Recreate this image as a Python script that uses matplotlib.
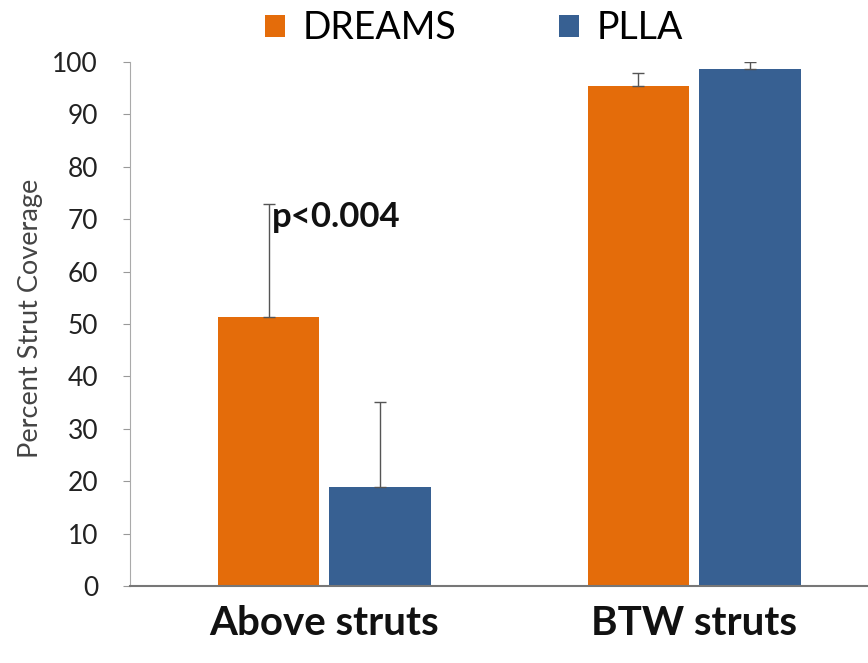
import matplotlib
matplotlib.use("Agg")
import matplotlib.pyplot as plt
import numpy as np

categories = ["Above struts", "BTW struts"]
series_names = ["DREAMS", "PLLA"]
dreams = [51.3, 95.4]
dreams_err = [21.6, 2.5]
plla = [18.9, 98.7]
plla_err = [16.2, 1.3]
yticks = [0, 10, 20, 30, 40, 50, 60, 70, 80, 90, 100]

colors = ["#E46C0A", "#376092"]

plt.rcParams['font.family'] = ['Lato', 'DejaVu Sans']
fig = plt.figure(figsize=(8.68, 6.63), dpi=100)
ax = fig.add_axes([130/868, 77/663, 1 - 130/868, (586-62)/663])

x = np.arange(len(categories))
w = 0.275
off = 0.151
err_kw = dict(ecolor="#555555", elinewidth=1.0, capsize=4, capthick=1.0)
ax.bar(x - off, dreams, w, color=colors[0], label=series_names[0],
       yerr=[np.zeros(2), dreams_err], error_kw=err_kw, zorder=2)
ax.bar(x + off, plla, w, color=colors[1], label=series_names[1],
       yerr=[np.zeros(2), plla_err], error_kw=err_kw, zorder=2)

ax.set_xlim(-0.526, 1.47)
ax.set_ylim(0, 100)
ax.set_yticks(yticks)
ax.set_yticklabels([str(t) for t in yticks], fontsize=19, color="#222222")
ax.tick_params(axis="y", length=5, color="#999999", pad=18)
ax.set_xticks(x)
ax.set_xticklabels(categories, fontsize=29, fontweight="bold", color="#111111")
ax.tick_params(axis="x", length=0, pad=14)

for s in ["top", "right"]:
    ax.spines[s].set_visible(False)
ax.spines["left"].set_color("#AAAAAA")
ax.spines["left"].set_linewidth(0.8)
ax.spines["bottom"].set_color("#777777")
ax.spines["bottom"].set_linewidth(1.5)

ax.set_ylabel("Percent Strut Coverage", fontsize=19.5, color="#444444")
ax.yaxis.set_label_coords(-(130 - 43) / (868 - 130), 0.51)

ax.text(x[0] - off + 0.01, 70.4, "p<0.004", fontsize=25, fontweight="bold",
        color="#111111", ha="left", va="center")

fs = 27
fspx = fs * 100 / 72
leg = fig.legend(loc="center left", bbox_to_anchor=(265/868, 1 - 28/663), ncol=2,
                 frameon=False, fontsize=fs, handlelength=20/fspx, handleheight=20/fspx,
                 columnspacing=102/fspx, handletextpad=18/fspx, borderpad=0,
                 borderaxespad=0)

fig.savefig("out.png", dpi=100)
